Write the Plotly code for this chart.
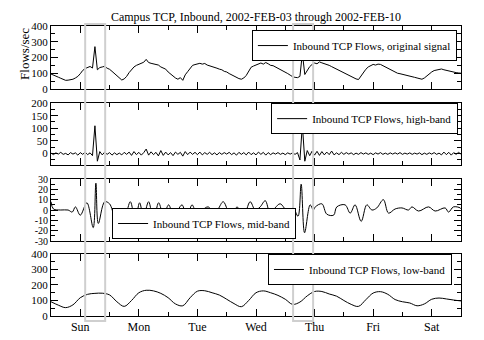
import plotly.graph_objects as go
from plotly.subplots import make_subplots

# hours since Sun 2002-02-03 00:00
hours = list(range(169))

original_flows = [
    95, 90, 83, 75, 68, 60, 55, 56, 58, 62, 70, 80, 97, 118, 130, 138, 143, 133, 269, 122,
    136, 140, 144, 132, 125, 112, 98, 84, 66, 57, 64, 80, 104, 124, 140, 150, 158, 166, 170, 188,
    168, 163, 160, 156, 152, 140, 134, 126, 108, 94, 78, 70, 62, 72, 55, 90, 110, 132, 150, 155,
    160, 163, 158, 162, 152, 148, 143, 138, 132, 126, 122, 112, 108, 98, 90, 80, 72, 66, 62, 70,
    86, 112, 138, 146, 152, 160, 165, 158, 168, 160, 150, 148, 140, 132, 126, 118, 110, 98, 88, 78,
    74, 72, 80, 227, 92, 118, 142, 156, 165, 160, 172, 166, 162, 155, 150, 142, 134, 128, 121, 112,
    104, 94, 88, 80, 72, 64, 60, 84, 106, 125, 140, 150, 156, 152, 158, 156, 148, 140, 130, 122,
    114, 106, 100, 97, 94, 90, 86, 82, 78, 74, 70, 66, 62, 70, 84, 96, 108, 117, 122, 126,
    127, 122, 118, 113, 110, 106, 104, 102, 100,
]

high_band = [
    2, -4, 3, -2, 5, -3, 1, -5, 4, -2, 3, -6, 4, -3, 6, -4, 3, -8, 110, -30,
    8, -5, 6, -3, 4, -6, 3, -4, 2, -5, 5, -3, 6, -7, 8, -4, 5, -6, 4, 18,
    -6, 7, -4, 5, -9, 12, -7, 6, -5, 4, -8, 6, -3, 5, -10, 8, -4, 6, -3, 5,
    -4, 6, -5, 4, -3, 5, -4, 3, -5, 4, -3, 4, -2, 5, -4, 3, -6, 5, -3, 4,
    -5, 6, -4, 3, -5, 6, -3, 5, -6, 4, -4, 3, -2, 4, -3, 2, -4, 3, -2, 3,
    -3, 4, -25, 114, -30, 12, -8, 10, -6, 9, -7, 8, -5, 6, -4, 10, -5, 3, -4, 5,
    -3, 4, -2, 3, -4, 2, -3, 4, -2, 3, -3, 2, -4, 3, -2, 4, -3, 2, -3, 3,
    -2, 3, -2, 4, -3, 2, -2, 3, -3, 2, -2, 3, -4, 2, -3, 3, -2, 4, -3, 2,
    -5, 6, -4, 5, -6, 4, -3, 5, -2,
]

mid_hours = [
    0, 1, 4, 7, 8.7, 10, 12, 14.7, 17.3, 18.4, 19.4, 22, 24, 26.3, 28.4, 30.4, 32.5, 34.5, 36.3, 37.9,
    40, 42, 44.1, 46.1, 48.2, 50.2, 52, 53.7, 55.7, 57.8, 59.8, 62, 64.4, 66.9, 68.5, 70.6, 74.1, 76.2, 78.9, 81.6,
    83.7, 85.7, 87.8, 89.8, 91.8, 93.9, 97.2, 99.2, 101.2, 102.5, 103.9, 106.2, 107.5, 108.3, 111, 113, 115.8, 117.1, 120.5, 122.6,
    124.6, 127.1, 129.4, 131.5, 133.5, 136.2, 138.3, 141, 143.8, 146.5, 147.9, 150.6, 154.7, 157.4, 161.5, 162.9, 164.9, 167.7, 168,
]
mid_band = [
    8, 1, 0, 0, -2, 3, -5, 7, -17, 26, -13, 8, 6, -6, -1, -4, 8, -10, 7, -6,
    8, -10, 7, -5, 5, -6, 0, 5, -7, 5, -4, 0, 3, -3, 1, 8, -10, 3, -6, 8,
    0, 3, 9, -3, 2, 6, -2, 2, -6, 25, -22, 5, 0, 3, 6, -4, -5, 3, 5, -3,
    5, -11, 5, 0, 2, 10, -3, 1, 2, 0, 3, -1, 3, -1, 2, -2, 3, 2, 1,
]

low_hours = list(range(0, 169, 3))
low_band = [
    92, 70, 54, 72, 118, 140, 146, 147, 136, 92, 62, 100, 150, 166, 162, 146, 118, 78, 66, 118,
    160, 163, 150, 135, 108, 80, 60, 100, 150, 162, 150, 133, 108, 75, 90, 130, 158, 158, 142, 128,
    100, 75, 62, 105, 148, 157, 140, 106, 92, 84, 66, 78, 108, 116, 110, 103, 97,
]

day_names = ["Sun", "Mon", "Tue", "Wed", "Thu", "Fri", "Sat"]
day_noons = [12 + 24 * i for i in range(7)]
midnights = [24 * i for i in range(8)]

# suspicious windows marked with grey boxes (hours)
highlight_windows = [(14.0, 22.2), (99.2, 107.4)]

series = [
    (hours, original_flows, "Inbound TCP Flows, original signal"),
    (hours, high_band, "Inbound TCP Flows, high-band"),
    (mid_hours, mid_band, "Inbound TCP Flows, mid-band"),
    (low_hours, low_band, "Inbound TCP Flows, low-band"),
]
y_ranges = [[0, 400], [-45, 200], [-30, 30], [0, 400]]
y_ticks = [
    [0, 100, 200, 300, 400],
    [0, 50, 100, 150, 200],
    [-30, -20, -10, 0, 10, 20, 30],
    [0, 100, 200, 300, 400],
]
y_minor = [50, 25, 5, 50]
y_font = [11, 11, 10, 11]
domains = [[0.7828, 1.0], [0.5207, 0.7345], [0.2586, 0.4724], [0.0, 0.2138]]
legend_pos = [
    dict(x=0.99, y=0.986, xanchor="right", yanchor="top"),
    dict(x=0.993, y=0.734, xanchor="right", yanchor="top"),
    dict(x=0.149, y=0.2655, xanchor="left", yanchor="bottom"),
    dict(x=0.978, y=0.2138, xanchor="right", yanchor="top"),
]

serif = "Liberation Serif"

fig = make_subplots(rows=4, cols=1, shared_xaxes=True, vertical_spacing=0.04)

legend_style = dict(
    font=dict(family=serif, size=11, color="black"),
    bgcolor="white", bordercolor="black", borderwidth=1,
    itemwidth=30, tracegroupgap=0,
)

for i, (xs, ys, label) in enumerate(series):
    leg = "legend" if i == 0 else "legend%d" % (i + 1)
    fig.add_trace(go.Scatter(
        x=xs, y=ys, mode="lines", name=label, legend=leg,
        line=dict(color="black", width=1, shape="spline" if i >= 2 else "linear", smoothing=1.0),
        showlegend=True,
    ), row=i + 1, col=1)

    fig.update_yaxes(
        range=y_ranges[i], domain=domains[i], automargin=False,
        tickmode="array", tickvals=y_ticks[i], ticktext=[str(v) for v in y_ticks[i]],
        ticks="inside", ticklen=7, tickcolor="black", tickwidth=1,
        minor=dict(dtick=y_minor[i], tick0=0, ticks="inside", ticklen=4, tickcolor="black"),
        showline=True, linecolor="black", linewidth=1, mirror="ticks",
        showgrid=False, zeroline=False,
        tickfont=dict(family=serif, size=y_font[i], color="black"),
        row=i + 1, col=1,
    )
    fig.update_xaxes(
        range=[0, 168], tickmode="array", tickvals=day_noons, ticktext=day_names,
        showticklabels=(i == 3), automargin=False,
        ticks="inside", ticklen=7, tickcolor="black", tickwidth=1,
        minor=dict(tickmode="array", tickvals=midnights, ticks="inside", ticklen=4, tickcolor="black"),
        showline=True, linecolor="black", linewidth=1, mirror="ticks",
        showgrid=False, zeroline=False,
        tickfont=dict(family=serif, size=12, color="black"),
        row=i + 1, col=1,
    )
    fig.update_layout({leg: dict(legend_style, **legend_pos[i])})

for x0, x1 in highlight_windows:
    fig.add_shape(
        type="rect", xref="x", yref="paper", x0=x0, x1=x1, y0=-0.017, y1=1.007,
        line=dict(color="#cfcfcf", width=2), fillcolor="rgba(0,0,0,0)", layer="above",
    )

fig.add_annotation(
    text="Flows/sec", xref="paper", yref="paper", x=-0.065, y=0.905,
    xanchor="center", yanchor="middle",
    textangle=-90, showarrow=False, font=dict(family=serif, size=13, color="black"),
)

# page body adds an 8px margin, so the figure is a bit smaller than the window
fig.update_layout(
    width=476, height=332,
    margin=dict(l=43, r=23, t=18, b=24),
    paper_bgcolor="white", plot_bgcolor="white",
    title=dict(
        text="Campus TCP, Inbound, 2002-FEB-03 through 2002-FEB-10",
        xref="container", x=0.521, xanchor="center",
        yref="container", y=0.975, yanchor="middle",
        font=dict(family=serif, size=12, color="black"),
    ),
    font=dict(family=serif, color="black"),
)

fig.write_html("out.html")
